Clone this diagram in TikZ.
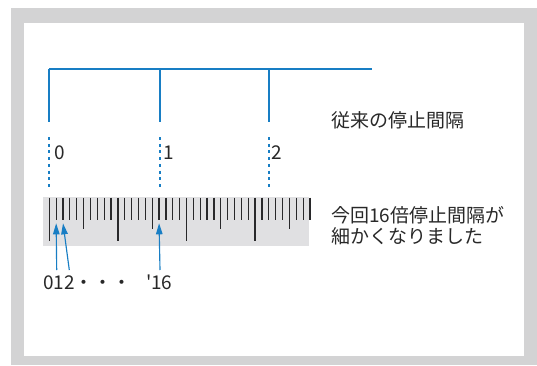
\documentclass[tikz,border=0pt]{standalone}
\usepackage{fontspec}
\setmainfont[Ligatures=TeXOff]{Noto Sans CJK JP}
\usepackage{xcolor}
\usepackage{tikz}
\usetikzlibrary{calc}
\usetikzlibrary{arrows.meta}
\usetikzlibrary{positioning}

\definecolor{stopblue}{RGB}{24,126,196}
\definecolor{framegray}{RGB}{211,211,212}
\definecolor{rulergray}{RGB}{224,224,226}
\definecolor{tickgray}{RGB}{40,40,42}
\definecolor{textgray}{RGB}{40,40,40}

\begin{document}
\begin{tikzpicture}[x=0.02cm,y=-0.02cm,>={Triangle[length=0.22cm,width=0.13cm]},
font=\fontsize{10.8}{12}\selectfont,
stopline/.style={-,line width=0.8pt,stopblue},
stopdash/.style={-,line width=0.8pt,stopblue,dash pattern=on 0.06cm off 0.075cm},
tickline/.style={-,line width=0.7pt,tickgray},
pointer/.style={->,line width=0.65pt,stopblue},
label text/.style={inner sep=0pt,text=textgray,anchor=base west}]
\useasboundingbox (0,0) rectangle (537,365);

% frame
\fill[framegray] (11,8) rectangle (537,365);
\fill[white] (24,22.7) rectangle (524,355.7);

% old stop interval
\coordinate (b0) at (49,69);
\coordinate (b1) at (160,69);
\coordinate (b2) at (269,69);
\coordinate (bend) at (371.7,69);
\draw[stopline] (b0)--(bend);
\foreach \n in {0,1,2} {
\draw[stopline] (b\n)--++(0,52.7);
\draw[stopdash] ($(b\n)+(0,68)$)--++(0,51);
}
\node (mark0) [label text] at (54.5,159) {0};
\node (mark1) [label text] at (163,159) {1};
\node (mark2) [label text] at (271,159) {2};
\node (text_old) [label text] at (331,127.5) {従来の停止間隔};

% ruler
\fill[rulergray] (42.7,197.3) rectangle (309,246.3);
\foreach \i in {0,...,38} {
\pgfmathsetmacro\tx{49.3+6.86*\i}
\pgfmathsetmacro\ty{mod(\i,10)==0 ? 241 : (mod(\i,5)==0 ? 228.5 : 219.5)}
\draw[tickline] (\tx,197.5)--(\tx,\ty);
\coordinate (t\i) at (\tx,223.3);
}
\node (text_new) [inner sep=0pt,text=textgray,anchor=north west,align=left,
font=\fontsize{10.8}{11.95}\selectfont] at (331,206) {今回16倍停止間隔が\\細かくなりました};

% new stop interval
\node (text_count) [label text] at (43,289) {012・・・\hspace{0.75em}'16};
\coordinate (p0) at (56.7,270);
\coordinate (p1) at (69.3,270);
\coordinate (p16) at (160,270);
\draw[pointer] (p0)--(t1);
\draw[pointer] (p1)--(t2);
\draw[pointer] (p16)--(t16);

\end{tikzpicture}
\end{document}
